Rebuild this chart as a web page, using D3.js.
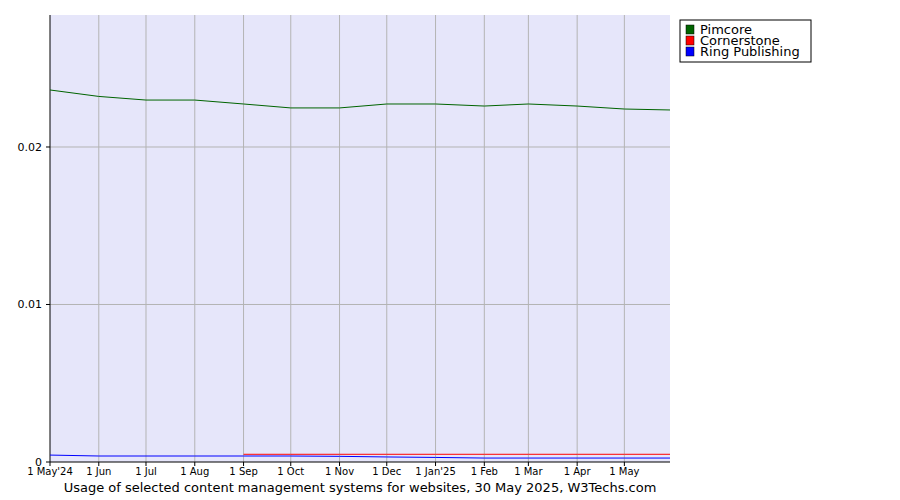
<!DOCTYPE html>
<html><head><meta charset="utf-8">
<script src="https://cdn.jsdelivr.net/npm/d3@7"></script>
<style>body{margin:0;background:#fff}</style>
</head><body><div id="wrapper"></div>
<script>
const dates = ["2024-05-01","2024-06-01","2024-07-01","2024-08-01","2024-09-01","2024-10-01","2024-11-01","2024-12-01","2025-01-01","2025-02-01","2025-03-01","2025-04-01","2025-05-01","2025-05-30"];
const pimcore = [0.02362,0.02321,0.02298,0.02298,0.02273,0.02248,0.02248,0.02273,0.02273,0.0226,0.02273,0.0226,0.02241,0.02235];
const cornerstone = [null,null,null,null,0.00049,0.00049,0.00049,0.00049,0.00049,0.00049,0.00049,0.00049,0.00049,0.00049];
const ring = [0.00044,0.00038,0.00038,0.00038,0.00038,0.00038,0.00036,0.00032,0.00029,0.00025,0.00025,0.00025,0.00025,0.00025];
const tickDates = ["2024-05-01","2024-06-01","2024-07-01","2024-08-01","2024-09-01","2024-10-01","2024-11-01","2024-12-01","2025-01-01","2025-02-01","2025-03-01","2025-04-01","2025-05-01"];
const tickLabels = ["1 May'24","1 Jun","1 Jul","1 Aug","1 Sep","1 Oct","1 Nov","1 Dec","1 Jan'25","1 Feb","1 Mar","1 Apr","1 May"];
const yTicks = [0,0.01,0.02];
const series = [
  {name:"Pimcore", values:pimcore, color:"#006400"},
  {name:"Cornerstone", values:cornerstone, color:"#ff0000"},
  {name:"Ring Publishing", values:ring, color:"#0000ff"}
];

const parse = d3.timeParse("%Y-%m-%d");
const m = {left:50, top:15, right:670, bottom:462};
const svg = d3.select("#wrapper").append("svg").attr("width",900).attr("height",500)
  .style("font-family","DejaVu Sans, Verdana, sans-serif");

const x = d3.scaleTime().domain([parse(dates[0]), parse(dates[dates.length-1])]).range([m.left, m.right]);
const y = d3.scaleLinear().domain([0, 0.02838]).range([m.bottom, m.top]);

svg.append("rect").attr("x",m.left).attr("y",m.top).attr("width",m.right-m.left).attr("height",m.bottom-m.top).attr("fill","#e6e6fa");

svg.selectAll(".vg").data(tickDates.slice(1)).join("line")
  .attr("x1",d=>x(parse(d))).attr("x2",d=>x(parse(d))).attr("y1",m.top).attr("y2",m.bottom)
  .attr("stroke","#b4b4b4").attr("stroke-width",1);
svg.selectAll(".hg").data(yTicks.slice(1)).join("line")
  .attr("x1",m.left).attr("x2",m.right).attr("y1",d=>y(d)).attr("y2",d=>y(d))
  .attr("stroke","#b4b4b4");

svg.selectAll(".yl").data(yTicks).join("text")
  .attr("x",m.left-8).attr("y",d=>y(d)+4).attr("text-anchor","end").attr("font-size",11).text(d=>d===0?"0":d);
svg.selectAll(".yt").data(yTicks).join("line")
  .attr("x1",m.left-4).attr("x2",m.left).attr("y1",d=>y(d)).attr("y2",d=>y(d)).attr("stroke","#000");
svg.selectAll(".xl").data(tickDates).join("text")
  .attr("x",d=>x(parse(d))).attr("y",m.bottom+13).attr("text-anchor","middle").attr("font-size",10)
  .text((d,i)=>tickLabels[i]);
svg.selectAll(".xt").data(tickDates).join("line")
  .attr("x1",d=>x(parse(d))).attr("x2",d=>x(parse(d))).attr("y1",m.bottom).attr("y2",m.bottom+4).attr("stroke","#000");

svg.append("line").attr("x1",m.left).attr("x2",m.left).attr("y1",m.top).attr("y2",m.bottom).attr("stroke","#000");
svg.append("line").attr("x1",m.left).attr("x2",m.right).attr("y1",m.bottom).attr("y2",m.bottom).attr("stroke","#000");

const line = d3.line().defined(d=>d.v!=null).x(d=>x(d.d)).y(d=>y(d.v));
series.forEach(s=>{
  svg.append("path").datum(dates.map((d,i)=>({d:parse(d), v:s.values[i]})))
    .attr("d",line).attr("fill","none").attr("stroke",s.color).attr("stroke-width",1);
});

const lg = svg.append("g").attr("transform","translate(680,20)");
lg.append("rect").attr("width",131).attr("height",42).attr("fill","#fff").attr("stroke","#000");
series.forEach((s,i)=>{
  lg.append("rect").attr("x",6).attr("y",5+i*11).attr("width",8).attr("height",9).attr("fill",s.color).attr("stroke","#000").attr("stroke-width",0.5);
  lg.append("text").attr("x",20).attr("y",14+i*11).attr("font-size",13).text(s.name);
});

svg.append("text").attr("x",360).attr("y",492).attr("text-anchor","middle").attr("font-size",13)
  .text("Usage of selected content management systems for websites, 30 May 2025, W3Techs.com");
</script></body></html>
